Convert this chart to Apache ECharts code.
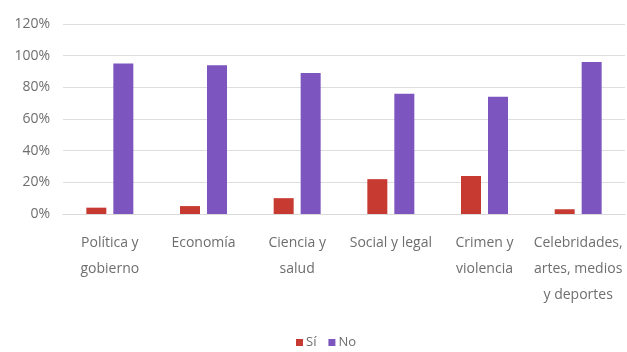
<!DOCTYPE html>
<html>
<head>
<meta charset="utf-8">
<script src="https://cdn.jsdelivr.net/npm/echarts@6/dist/echarts.min.js"></script>
<style>
  html, body { margin: 0; padding: 0; background: #ffffff; }
  #chart { width: 627px; height: 352px; }
</style>
</head>
<body>
<div id="chart"></div>
<script>
// Topic categories (x axis)
const categories = [
  'Política y\ngobierno',
  'Economía',
  'Ciencia y\nsalud',
  'Social y legal',
  'Crimen y\nviolencia',
  'Celebridades,\nartes, medios\ny deportes'
];
// Share of answers per topic, in percent
const siValues = [4, 5, 10, 22, 24, 3];
const noValues = [95, 94, 89, 76, 74, 96];
// Legend names
const seriesNames = ['Sí', 'No'];

const FONT = '"Liberation Sans Narrow", "Open Sans", "Liberation Sans", sans-serif';
const TEXT = '#6e6e6e';

const chart = echarts.init(document.getElementById('chart'), null, { renderer: 'canvas' });
chart.setOption({
  backgroundColor: '#ffffff',
  animation: false,
  grid: { left: 63, right: 2, top: 24, bottom: 138 },
  legend: {
    data: seriesNames,
    left: 291,
    top: 331,
    itemWidth: 7,
    itemHeight: 7,
    itemGap: 12,
    icon: 'rect',
    textStyle: { color: TEXT, fontFamily: FONT, fontSize: 13, padding: [0, 0, 0, -2] }
  },
  xAxis: {
    type: 'category',
    data: categories,
    axisLine: { show: true, lineStyle: { color: '#d9d9d9', width: 1 } },
    axisTick: { show: false },
    axisLabel: {
      color: TEXT,
      fontFamily: FONT,
      fontSize: 14,
      lineHeight: 26,
      margin: 16,
      interval: 0
    }
  },
  yAxis: {
    type: 'value',
    min: 0,
    max: 120,
    interval: 20,
    axisLine: { show: false },
    axisTick: { show: false },
    splitLine: { lineStyle: { color: '#dedede', width: 1 } },
    axisLabel: {
      color: TEXT,
      fontFamily: FONT,
      fontSize: 14,
      margin: 13,
      formatter: '{value}%'
    }
  },
  series: [
    {
      name: seriesNames[0],
      type: 'bar',
      data: siValues,
      barWidth: 20,
      barGap: '35%',
      itemStyle: { color: '#c73a32' }
    },
    {
      name: seriesNames[1],
      type: 'bar',
      data: noValues,
      barWidth: 20,
      itemStyle: { color: '#7d55bf' }
    }
  ]
});
</script>
</body>
</html>
